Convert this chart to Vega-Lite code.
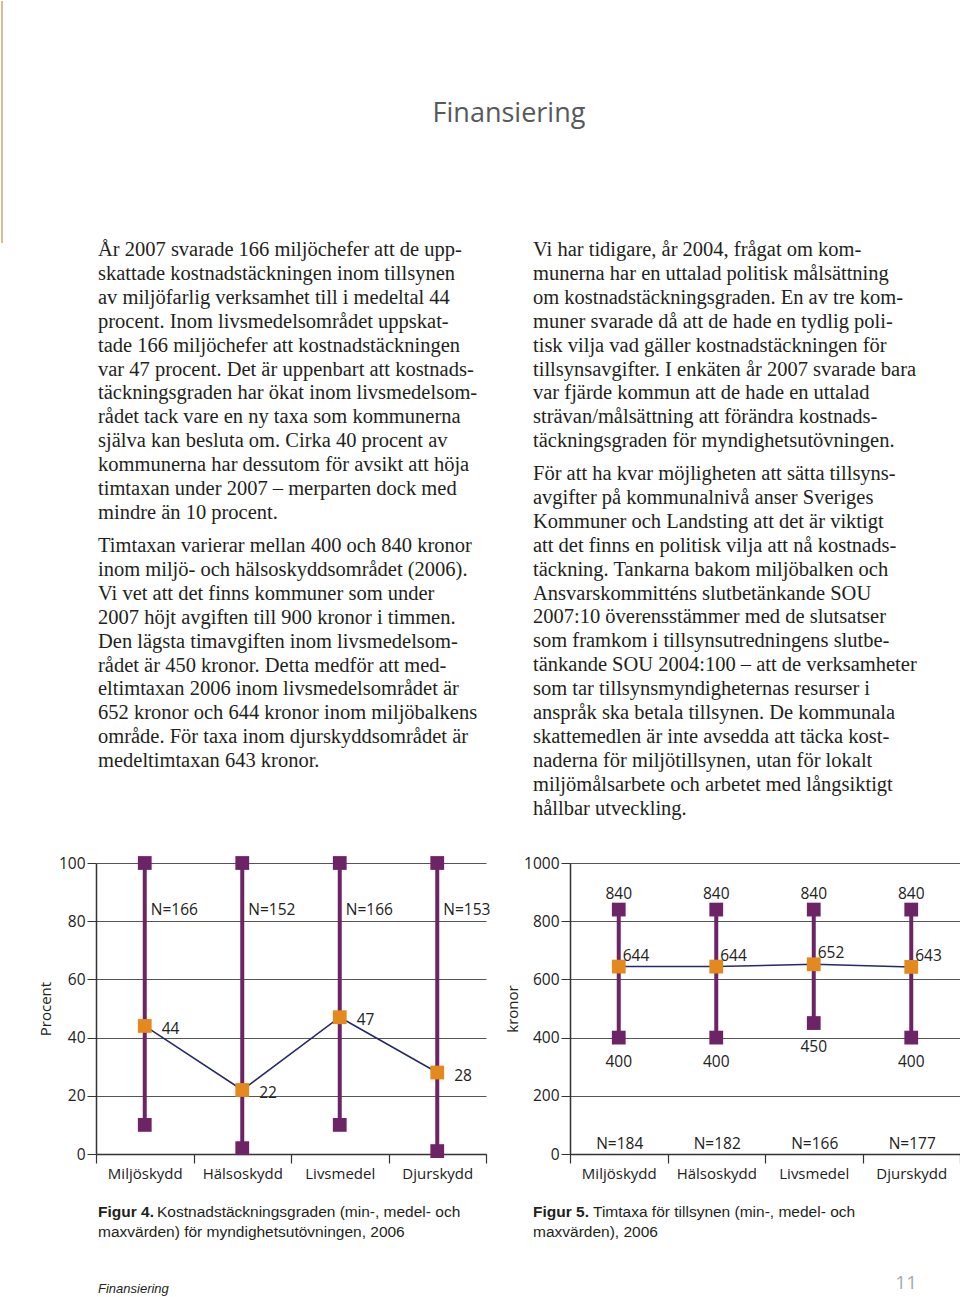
{
  "$schema": "https://vega.github.io/schema/vega-lite/v6.json",
  "padding": 0,
  "background": "white",
  "config": {"view": {"stroke": null}},
  "datasets": {
    "c1": [
      {"cat": "Miljöskydd", "min": 10, "mean": 44, "max": 100, "n": "N=166"},
      {"cat": "Hälsoskydd", "min": 2, "mean": 22, "max": 100, "n": "N=152"},
      {"cat": "Livsmedel", "min": 10, "mean": 47, "max": 100, "n": "N=166"},
      {"cat": "Djurskydd", "min": 1, "mean": 28, "max": 100, "n": "N=153"}
    ],
    "c2": [
      {"cat": "Miljöskydd", "min": 400, "mean": 644, "max": 840, "n": "N=184"},
      {"cat": "Hälsoskydd", "min": 400, "mean": 644, "max": 840, "n": "N=182"},
      {"cat": "Livsmedel", "min": 450, "mean": 652, "max": 840, "n": "N=166"},
      {"cat": "Djurskydd", "min": 400, "mean": 643, "max": 840, "n": "N=177"}
    ],
    "body": [
      {"col": "L", "para": 1, "text": "År 2007 svarade 166 miljöchefer att de upp-\nskattade kostnadstäckningen inom tillsynen\nav miljöfarlig verksamhet till i medeltal 44\nprocent. Inom livsmedelsområdet uppskat-\ntade 166 miljöchefer att kostnadstäckningen\nvar 47 procent. Det är uppenbart att kostnads-\ntäckningsgraden har ökat inom livsmedelsom-\nrådet tack vare en ny taxa som kommunerna\nsjälva kan besluta om. Cirka 40 procent av\nkommunerna har dessutom för avsikt att höja\ntimtaxan under 2007 – merparten dock med\nmindre än 10 procent."},
      {"col": "L", "para": 2, "text": "Timtaxan varierar mellan 400 och 840 kronor\ninom miljö- och hälsoskyddsområdet (2006).\nVi vet att det finns kommuner som under\n2007 höjt avgiften till 900 kronor i timmen.\nDen lägsta timavgiften inom livsmedelsom-\nrådet är 450 kronor. Detta medför att med-\neltimtaxan 2006 inom livsmedelsområdet är\n652 kronor och 644 kronor inom miljöbalkens\nområde. För taxa inom djurskyddsområdet är\nmedeltimtaxan 643 kronor."},
      {"col": "R", "para": 1, "text": "Vi har tidigare, år 2004, frågat om kom-\nmunerna har en uttalad politisk målsättning\nom kostnadstäckningsgraden. En av tre kom-\nmuner svarade då att de hade en tydlig poli-\ntisk vilja vad gäller kostnadstäckningen för\ntillsynsavgifter. I enkäten år 2007 svarade bara\nvar fjärde kommun att de hade en uttalad\nsträvan/målsättning att förändra kostnads-\ntäckningsgraden för myndighetsutövningen."},
      {"col": "R", "para": 2, "text": "För att ha kvar möjligheten att sätta tillsyns-\navgifter på kommunalnivå anser Sveriges\nKommuner och Landsting att det är viktigt\natt det finns en politisk vilja att nå kostnads-\ntäckning. Tankarna bakom miljöbalken och\nAnsvarskommitténs slutbetänkande SOU\n2007:10 överensstämmer med de slutsatser\nsom framkom i tillsynsutredningens slutbe-\ntänkande SOU 2004:100 – att de verksamheter\nsom tar tillsynsmyndigheternas resurser i\nanspråk ska betala tillsynen. De kommunala\nskattemedlen är inte avsedda att täcka kost-\nnaderna för miljötillsynen, utan för lokalt\nmiljömålsarbete och arbetet med långsiktigt\nhållbar utveckling."}
    ],
    "caps": [
      {"fig": "4", "line": 1, "seg": "b", "text": "Figur 4."},
      {"fig": "4", "line": 1, "seg": "r", "text": "Kostnadstäckningsgraden (min-, medel- och"},
      {"fig": "4", "line": 2, "seg": "r2", "text": "maxvärden) för myndighetsutövningen, 2006"},
      {"fig": "5", "line": 1, "seg": "b", "text": "Figur 5."},
      {"fig": "5", "line": 1, "seg": "r", "text": "Timtaxa för tillsynen (min-, medel- och"},
      {"fig": "5", "line": 2, "seg": "r2", "text": "maxvärden), 2006"}
    ],
    "foot": [
      {"pos": "L", "text": "Finansiering"},
      {"pos": "R", "text": "11"}
    ]
  },
  "columns": 3,
  "spacing": {"row": 0, "column": 84},
  "bounds": "flush",
  "align": "each",
  "concat": [
    {
      "width": 11, "height": 242,
      "data": {"values": [{"e": "edge"}]},
      "mark": {"type": "rule", "color": "#dcbc98", "strokeWidth": 2},
      "encoding": {"x": {"field": "e", "type": "nominal", "axis": null, "scale": {"type": "point", "padding": 0, "align": 0.09}}}
    },
    {
      "width": 390, "height": 242,
      "data": {"values": [{"t": "Finansiering"}]},
      "mark": {"type": "text", "font": "Open Sans", "fontSize": 27, "color": "#58595b", "baseline": "alphabetic", "align": "center", "dx": 218},
      "encoding": {"text": {"field": "t", "type": "nominal"}}
    },
    {"width": 1, "height": 255, "data": {"values": []}, "mark": "point"},

    {"width": 11, "height": 607, "data": {"values": []}, "mark": "point"},
    {
      "width": 390, "height": 296,
      "data": {"name": "body"},
      "transform": [{"filter": "datum.col === 'L'"}],
      "mark": {"type": "text", "align": "left", "baseline": "alphabetic", "lineBreak": "\n", "lineHeight": 23.9, "font": "Liberation Serif", "fontSize": 20.5, "color": "#231f20", "dx": 2},
      "encoding": {
        "x": {"field": "col", "type": "nominal", "axis": null, "scale": {"type": "point", "padding": 0, "align": 0}},
        "y": {"field": "para", "type": "ordinal", "axis": null, "scale": {"type": "point", "padding": 0}},
        "text": {"field": "text", "type": "nominal"}
      }
    },
    {
      "width": 390, "height": 224,
      "data": {"name": "body"},
      "transform": [{"filter": "datum.col === 'R'"}],
      "mark": {"type": "text", "align": "left", "baseline": "alphabetic", "lineBreak": "\n", "lineHeight": 23.9, "font": "Liberation Serif", "fontSize": 20.5, "color": "#231f20", "dx": -37},
      "encoding": {
        "x": {"field": "col", "type": "nominal", "axis": null, "scale": {"type": "point", "padding": 0, "align": 0}},
        "y": {"field": "para", "type": "ordinal", "axis": null, "scale": {"type": "point", "padding": 0}},
        "text": {"field": "text", "type": "nominal"}
      }
    },

    {"width": 11, "height": 354, "data": {"values": []}, "mark": "point"},
    {
      "width": 390, "height": 291,
      "data": {"name": "c1"},
      "encoding": {
        "x": {"field": "cat", "type": "nominal", "sort": null,
          "scale": {"type": "band", "paddingInner": 0, "paddingOuter": 0},
          "axis": {"title": null, "labelAngle": 0, "tickBand": "extent", "tickSize": 9, "tickColor": "#333333", "tickWidth": 1.2, "domainColor": "#333333", "domainWidth": 1.5, "labelFont": "Open Sans", "labelFontSize": 15, "labelColor": "#222222", "labelPadding": 3}}
      },
      "layer": [
        {
          "mark": {"type": "rule", "color": "#6c2466", "strokeWidth": 4},
          "encoding": {
            "y": {"field": "min", "type": "quantitative", "title": "Procent",
              "scale": {"domain": [0, 100], "nice": false},
              "axis": {"values": [0, 10, 20, 30, 40, 50, 60, 70, 80, 90, 100],
                "labelExpr": "datum.value % 20 === 0 ? datum.label : ''",
                "labelOverlap": false,
                "grid": true,
                "gridColor": {"condition": {"test": "datum.value % 20 === 0", "value": "#555555"}, "value": "#a8a8a8"},
                "gridWidth": 1.2,
                "tickSize": {"condition": {"test": "datum.value % 20 === 0", "value": 9}, "value": 5},
                "tickColor": {"condition": {"test": "datum.value % 20 === 0", "value": "#333333"}, "value": "#a8a8a8"},
                "domainColor": "#333333", "domainWidth": 1.5,
                "labelFont": "Open Sans", "labelFontSize": 15.5, "labelColor": "#222222", "labelPadding": 2,
                "titleFont": "Open Sans", "titleFontSize": 15, "titleFontWeight": "normal", "titleColor": "#222222", "titlePadding": 5}},
            "y2": {"field": "max"}
          }
        },
        {"mark": {"type": "line", "color": "#25286b", "strokeWidth": 1.5}, "encoding": {"y": {"field": "mean", "type": "quantitative", "title": "Procent"}}},
        {"mark": {"type": "square", "color": "#6c2466", "size": 190, "opacity": 1}, "encoding": {"y": {"field": "min", "type": "quantitative", "title": "Procent"}}},
        {"mark": {"type": "square", "color": "#6c2466", "size": 190, "opacity": 1}, "encoding": {"y": {"field": "max", "type": "quantitative", "title": "Procent"}}},
        {"mark": {"type": "square", "color": "#e3891e", "size": 190, "opacity": 1}, "encoding": {"y": {"field": "mean", "type": "quantitative", "title": "Procent"}}},
        {"mark": {"type": "text", "align": "left", "baseline": "middle", "dx": 17, "dy": 3, "font": "Open Sans", "fontSize": 15.5, "color": "#222222"},
          "encoding": {"y": {"field": "mean", "type": "quantitative", "title": "Procent"}, "text": {"field": "mean", "type": "quantitative"}}},
        {"mark": {"type": "text", "align": "left", "baseline": "middle", "dx": 6, "font": "Open Sans", "fontSize": 15.5, "color": "#222222"},
          "encoding": {"y": {"datum": 84, "type": "quantitative", "title": "Procent"}, "text": {"field": "n", "type": "nominal"}}}
      ]
    },
    {
      "width": 390, "height": 291,
      "data": {"name": "c2"},
      "encoding": {
        "x": {"field": "cat", "type": "nominal", "sort": null,
          "scale": {"type": "band", "paddingInner": 0, "paddingOuter": 0},
          "axis": {"title": null, "labelAngle": 0, "tickBand": "extent", "tickSize": 9, "tickColor": "#333333", "tickWidth": 1.2, "domainColor": "#333333", "domainWidth": 1.5, "labelFont": "Open Sans", "labelFontSize": 15, "labelColor": "#222222", "labelPadding": 3}}
      },
      "layer": [
        {
          "mark": {"type": "rule", "color": "#6c2466", "strokeWidth": 4},
          "encoding": {
            "y": {"field": "min", "type": "quantitative", "title": "kronor",
              "scale": {"domain": [0, 1000], "nice": false},
              "axis": {"values": [0, 100, 200, 300, 400, 500, 600, 700, 800, 900, 1000],
                "labelExpr": "datum.value % 200 === 0 ? datum.label : ''",
                "format": "d",
                "labelOverlap": false,
                "grid": true,
                "gridColor": {"condition": {"test": "datum.value % 200 === 0", "value": "#555555"}, "value": "#a8a8a8"},
                "gridWidth": 1.2,
                "tickSize": {"condition": {"test": "datum.value % 200 === 0", "value": 9}, "value": 5},
                "tickColor": {"condition": {"test": "datum.value % 200 === 0", "value": "#333333"}, "value": "#a8a8a8"},
                "domainColor": "#333333", "domainWidth": 1.5,
                "labelFont": "Open Sans", "labelFontSize": 15.5, "labelColor": "#222222", "labelPadding": 2,
                "titleFont": "Open Sans", "titleFontSize": 15, "titleFontWeight": "normal", "titleColor": "#222222", "titlePadding": 3}},
            "y2": {"field": "max"}
          }
        },
        {"mark": {"type": "line", "color": "#25286b", "strokeWidth": 1.5}, "encoding": {"y": {"field": "mean", "type": "quantitative", "title": "kronor"}}},
        {"mark": {"type": "square", "color": "#6c2466", "size": 190, "opacity": 1}, "encoding": {"y": {"field": "min", "type": "quantitative", "title": "kronor"}}},
        {"mark": {"type": "square", "color": "#6c2466", "size": 190, "opacity": 1}, "encoding": {"y": {"field": "max", "type": "quantitative", "title": "kronor"}}},
        {"mark": {"type": "square", "color": "#e3891e", "size": 190, "opacity": 1}, "encoding": {"y": {"field": "mean", "type": "quantitative", "title": "kronor"}}},
        {"mark": {"type": "text", "align": "center", "baseline": "middle", "dy": -16, "font": "Open Sans", "fontSize": 15.5, "color": "#222222"},
          "encoding": {"y": {"field": "max", "type": "quantitative", "title": "kronor"}, "text": {"field": "max", "type": "quantitative"}}},
        {"mark": {"type": "text", "align": "left", "baseline": "middle", "dx": 4, "dy": -11, "font": "Open Sans", "fontSize": 15.5, "color": "#222222"},
          "encoding": {"y": {"field": "mean", "type": "quantitative", "title": "kronor"}, "text": {"field": "mean", "type": "quantitative"}}},
        {"mark": {"type": "text", "align": "center", "baseline": "middle", "dy": 24, "font": "Open Sans", "fontSize": 15.5, "color": "#222222"},
          "encoding": {"y": {"field": "min", "type": "quantitative", "title": "kronor"}, "text": {"field": "min", "type": "quantitative"}}},
        {"mark": {"type": "text", "align": "center", "baseline": "middle", "dx": 1, "font": "Open Sans", "fontSize": 15.5, "color": "#222222"},
          "encoding": {"y": {"datum": 35, "type": "quantitative", "title": "kronor"}, "text": {"field": "n", "type": "nominal"}}}
      ]
    },

    {"width": 11, "height": 75, "data": {"values": []}, "mark": "point"},
    {
      "width": 390, "height": 20,
      "data": {"name": "caps"},
      "transform": [{"filter": "datum.fig === '4'"}],
      "encoding": {
        "x": {"field": "fig", "type": "nominal", "axis": null, "scale": {"type": "point", "padding": 0, "align": 0}},
        "y": {"field": "line", "type": "ordinal", "axis": null, "scale": {"type": "point", "padding": 0}},
        "text": {"field": "text", "type": "nominal"}
      },
      "layer": [
        {"transform": [{"filter": "datum.seg === 'b'"}], "mark": {"type": "text", "align": "left", "baseline": "alphabetic", "dx": 2, "font": "Liberation Sans", "fontSize": 15.5, "fontWeight": "bold", "color": "#231f20"}},
        {"transform": [{"filter": "datum.seg === 'r'"}], "mark": {"type": "text", "align": "left", "baseline": "alphabetic", "dx": 61, "font": "Liberation Sans", "fontSize": 15.5, "color": "#231f20"}},
        {"transform": [{"filter": "datum.seg === 'r2'"}], "mark": {"type": "text", "align": "left", "baseline": "alphabetic", "dx": 2, "font": "Liberation Sans", "fontSize": 15.5, "color": "#231f20"}}
      ]
    },
    {
      "width": 390, "height": 20,
      "data": {"name": "caps"},
      "transform": [{"filter": "datum.fig === '5'"}],
      "encoding": {
        "x": {"field": "fig", "type": "nominal", "axis": null, "scale": {"type": "point", "padding": 0, "align": 0}},
        "y": {"field": "line", "type": "ordinal", "axis": null, "scale": {"type": "point", "padding": 0}},
        "text": {"field": "text", "type": "nominal"}
      },
      "layer": [
        {"transform": [{"filter": "datum.seg === 'b'"}], "mark": {"type": "text", "align": "left", "baseline": "alphabetic", "dx": -37, "font": "Liberation Sans", "fontSize": 15.5, "fontWeight": "bold", "color": "#231f20"}},
        {"transform": [{"filter": "datum.seg === 'r'"}], "mark": {"type": "text", "align": "left", "baseline": "alphabetic", "dx": 23, "font": "Liberation Sans", "fontSize": 15.5, "color": "#231f20"}},
        {"transform": [{"filter": "datum.seg === 'r2'"}], "mark": {"type": "text", "align": "left", "baseline": "alphabetic", "dx": -37, "font": "Liberation Sans", "fontSize": 15.5, "color": "#231f20"}}
      ]
    },

    {"width": 11, "height": 2, "data": {"values": []}, "mark": "point"},
    {
      "width": 390, "height": 2,
      "data": {"name": "foot"},
      "transform": [{"filter": "datum.pos === 'L'"}],
      "mark": {"type": "text", "align": "left", "baseline": "alphabetic", "dx": 2, "font": "Liberation Sans", "fontSize": 13, "fontStyle": "italic", "color": "#231f20"},
      "encoding": {
        "x": {"field": "pos", "type": "nominal", "axis": null, "scale": {"type": "point", "padding": 0, "align": 0}},
        "text": {"field": "text", "type": "nominal"}
      }
    },
    {
      "width": 347, "height": 2,
      "data": {"name": "foot"},
      "transform": [{"filter": "datum.pos === 'R'"}],
      "mark": {"type": "text", "align": "right", "baseline": "alphabetic", "dy": -4, "font": "Open Sans", "fontSize": 19, "color": "#a7a9ac"},
      "encoding": {
        "x": {"field": "pos", "type": "nominal", "axis": null, "scale": {"type": "point", "padding": 0, "align": 1}},
        "text": {"field": "text", "type": "nominal"}
      }
    }
  ]
}
